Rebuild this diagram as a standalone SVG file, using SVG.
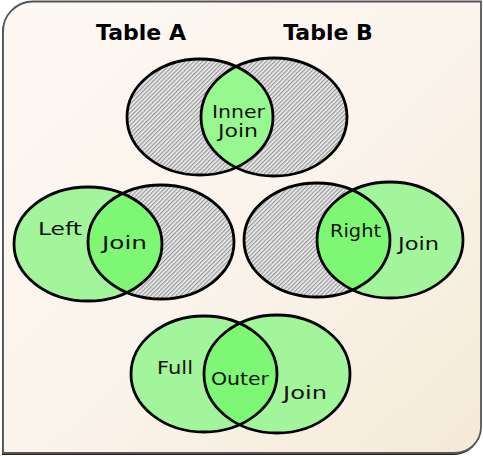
<svg xmlns="http://www.w3.org/2000/svg" width="483" height="456" viewBox="0 0 483 456">
<defs>
<linearGradient id="bg" x1="0" y1="0" x2="1" y2="1">
<stop offset="0" stop-color="#fdf8f3"/>
<stop offset="0.5" stop-color="#fbf4ec"/>
<stop offset="1" stop-color="#f4ead6"/>
</linearGradient>
<pattern id="hatch" width="3" height="3" patternUnits="userSpaceOnUse" patternTransform="rotate(-45)">
<rect width="3" height="3" fill="#eeeeee"/>
<rect width="3" height="1.3" fill="#9a9a9a"/>
</pattern>
<clipPath id="cTop"><ellipse cx="200" cy="117" rx="73" ry="58"/></clipPath>
<clipPath id="cLeft"><ellipse cx="88" cy="244" rx="74" ry="57"/></clipPath>
<clipPath id="cRight"><ellipse cx="317" cy="240" rx="73" ry="57"/></clipPath>
<clipPath id="cFull"><ellipse cx="204" cy="374" rx="73" ry="58"/></clipPath>
</defs>
<style>
.o{fill:none;stroke:#000;stroke-width:2.8}
.h{fill:url(#hatch)}
.lt{fill:#a3f59b}
.dk{fill:#7ef774}
.in{fill:#98f890}
.lbl{font-family:"DejaVu Sans","Liberation Sans",sans-serif;font-size:18px;fill:#111}
.ttl{font-family:"DejaVu Sans","Liberation Sans",sans-serif;font-size:22px;font-weight:bold;fill:#000}
</style>
<g id="background">
<path d="M3,454 L3,32 A30,30 0 0 1 33,2 L481,2 L481,428 A26,26 0 0 1 455,454 Z" fill="#222" transform="translate(-1,1)"/>
<path d="M3,453 L3,32 A30,30 0 0 1 33,1.5 L481,1.5 L481,428 A26,26 0 0 1 455,453 Z" fill="url(#bg)" stroke="#555" stroke-width="1.8"/>
</g>
<g id="title-a"><text class="ttl" x="141" y="40" text-anchor="middle">Table A</text></g>
<g id="title-b"><text class="ttl" x="328" y="40" text-anchor="middle">Table B</text></g>
<g id="inner-join">
<ellipse class="h" cx="200" cy="117" rx="73" ry="58"/>
<ellipse class="h" cx="274" cy="117" rx="73" ry="59"/>
<ellipse class="in" cx="274" cy="117" rx="73" ry="59" clip-path="url(#cTop)"/>
<ellipse class="o" cx="200" cy="117" rx="73" ry="58"/>
<ellipse class="o" cx="274" cy="117" rx="73" ry="59"/>
<text class="lbl" x="238.5" y="118" text-anchor="middle" textLength="53" lengthAdjust="spacingAndGlyphs">Inner</text>
<text class="lbl" x="238" y="137" text-anchor="middle" textLength="40" lengthAdjust="spacingAndGlyphs">Join</text>
</g>
<g id="left-join">
<ellipse class="lt" cx="88" cy="244" rx="74" ry="57"/>
<ellipse class="h" cx="161" cy="242" rx="73" ry="57"/>
<ellipse class="dk" cx="161" cy="242" rx="73" ry="57" clip-path="url(#cLeft)"/>
<ellipse class="o" cx="88" cy="244" rx="74" ry="57"/>
<ellipse class="o" cx="161" cy="242" rx="73" ry="57"/>
<text class="lbl" x="60" y="235" text-anchor="middle" textLength="44" lengthAdjust="spacingAndGlyphs">Left</text>
<text class="lbl" x="124.5" y="249" text-anchor="middle" textLength="45" lengthAdjust="spacingAndGlyphs">Join</text>
</g>
<g id="right-join">
<ellipse class="h" cx="317" cy="240" rx="73" ry="57"/>
<ellipse class="lt" cx="390" cy="240" rx="73" ry="58"/>
<ellipse class="dk" cx="390" cy="240" rx="73" ry="58" clip-path="url(#cRight)"/>
<ellipse class="o" cx="317" cy="240" rx="73" ry="57"/>
<ellipse class="o" cx="390" cy="240" rx="73" ry="58"/>
<text class="lbl" x="355.5" y="237" text-anchor="middle" textLength="51" lengthAdjust="spacingAndGlyphs">Right</text>
<text class="lbl" x="418.5" y="250" text-anchor="middle" textLength="41" lengthAdjust="spacingAndGlyphs">Join</text>
</g>
<g id="full-outer-join">
<ellipse class="lt" cx="204" cy="374" rx="73" ry="58"/>
<ellipse class="lt" cx="277" cy="374" rx="73" ry="59"/>
<ellipse class="dk" cx="277" cy="374" rx="73" ry="59" clip-path="url(#cFull)"/>
<ellipse class="o" cx="204" cy="374" rx="73" ry="58"/>
<ellipse class="o" cx="277" cy="374" rx="73" ry="59"/>
<text class="lbl" x="175" y="374" text-anchor="middle" textLength="36" lengthAdjust="spacingAndGlyphs">Full</text>
<text class="lbl" x="240" y="385" text-anchor="middle" textLength="58" lengthAdjust="spacingAndGlyphs">Outer</text>
<text class="lbl" x="305" y="399" text-anchor="middle" textLength="44" lengthAdjust="spacingAndGlyphs">Join</text>
</g>
</svg>
